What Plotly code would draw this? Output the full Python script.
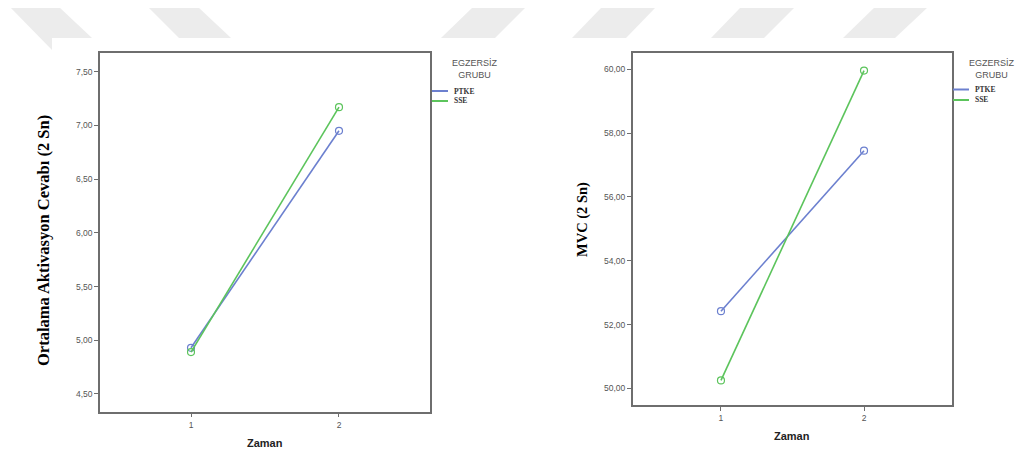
import plotly.graph_objects as go

W, H = 1023, 455
OFF = 8  # page body margin of the html page

# ---- data ----
zaman = [1, 2]
groups = ["PTKE", "SSE"]
aktivasyon_ptke = [4.93, 6.95]
aktivasyon_sse = [4.89, 7.17]
mvc_ptke = [52.42, 57.45]
mvc_sse = [50.25, 59.96]
left_yticks = [4.5, 5.0, 5.5, 6.0, 6.5, 7.0, 7.5]
right_yticks = [50, 52, 54, 56, 58, 60]

blue = "#6c80cf"
green = "#5cc45c"
frame = "#6e6e6e"


def px(x):
    return (x - OFF) / W


def py(y):
    return 1 - (y - OFF) / H


fig = go.Figure()

for xa, ya, vals in [("x", "y", (aktivasyon_ptke, aktivasyon_sse)),
                     ("x2", "y2", (mvc_ptke, mvc_sse))]:
    for name, v, c in zip(groups, vals, [blue, green]):
        fig.add_trace(go.Scatter(
            x=zaman, y=v, name=name, xaxis=xa, yaxis=ya,
            mode="lines+markers", showlegend=False,
            line=dict(color=c, width=1.6),
            marker=dict(symbol="circle-open", size=7, color=c, line=dict(width=1.2)),
        ))

axis_common = dict(showline=True, mirror=True, linecolor=frame, linewidth=1.5,
                   showgrid=False, zeroline=False, ticks="outside", ticklen=4,
                   tickcolor=frame, tickwidth=1.2,
                   tickfont=dict(family="Liberation Sans", size=8.5, color="#555555"))

fig.update_layout(
    width=W, height=H,
    margin=dict(l=0, r=0, t=0, b=0),
    paper_bgcolor="white", plot_bgcolor="white",
    separators=",.",
    xaxis=dict(domain=[px(100), px(430)], range=[0.385, 2.615], anchor="y",
               tickvals=zaman, **axis_common),
    yaxis=dict(domain=[py(411.7), py(52.7)], range=[4.335, 7.677], anchor="x",
               tickvals=left_yticks, tickformat=".2f", **axis_common),
    xaxis2=dict(domain=[px(632.7), px(952)], range=[0.383, 2.615], anchor="y2",
                tickvals=zaman, **axis_common),
    yaxis2=dict(domain=[py(405), py(52.7)], range=[49.48, 60.52], anchor="x2",
                tickvals=right_yticks, tickformat=".2f", **axis_common),
)

# ---- watermark shapes at the top ----
wm = "#ececec"
polys = [
    [(10, 7), (59, 7), (92, 38), (52, 38), (52, 50)],
    [(148, 7), (198, 7), (231, 38), (179, 38)],
    [(473, 7), (526, 7), (495, 38), (441, 38)],
    [(602, 7), (656, 7), (626, 38), (572, 38)],
    [(741, 7), (795, 7), (764, 38), (711, 38)],
    [(875, 7), (928, 7), (895, 38), (843, 38)],
]
for poly in polys:
    path = "M " + " L ".join(f"{px(x):.5f},{py(y):.5f}" for x, y in poly) + " Z"
    fig.add_shape(type="path", path=path, xref="paper", yref="paper",
                  fillcolor=wm, line=dict(width=0), layer="below")


def note(x, y, text, font, angle=0, xanchor="center"):
    fig.add_annotation(x=px(x), y=py(y), xref="paper", yref="paper", text=text,
                       textangle=angle, showarrow=False, xanchor=xanchor,
                       yanchor="middle", align="center", font=font)


# ---- axis titles ----
note(44, 241, "<b>Ortalama Aktivasyon Cevabı (2 Sn)</b>",
     dict(family="Liberation Serif", size=16.5, color="black"), angle=-90)
note(582, 220, "<b>MVC (2 Sn)</b>",
     dict(family="Liberation Serif", size=14.5, color="black"), angle=-90)
sans_title = dict(family="Liberation Sans", size=11, color="#222222")
note(265, 443, "<b>Zaman</b>", sans_title)
note(792, 436, "<b>Zaman</b>", sans_title)

# ---- legends ----
for tx, lx0, lx1, ly, textx in [(475, 432, 448, (91, 101), 452),
                                 (992, 953, 969, (89.5, 100), 973)]:
    note(tx, 69, "EGZERSİZ<br>GRUBU",
         dict(family="Liberation Sans", size=9, color="#555555"))
    for name, c, yy in zip(groups, [blue, green], ly):
        fig.add_shape(type="line", xref="paper", yref="paper",
                      x0=px(lx0), x1=px(lx1), y0=py(yy), y1=py(yy),
                      line=dict(color=c, width=2))
        note(textx, yy, f"<b>{name}</b>",
             dict(family="Liberation Serif", size=7.5, color="#333333"), xanchor="left")

fig.write_html("out.html")
